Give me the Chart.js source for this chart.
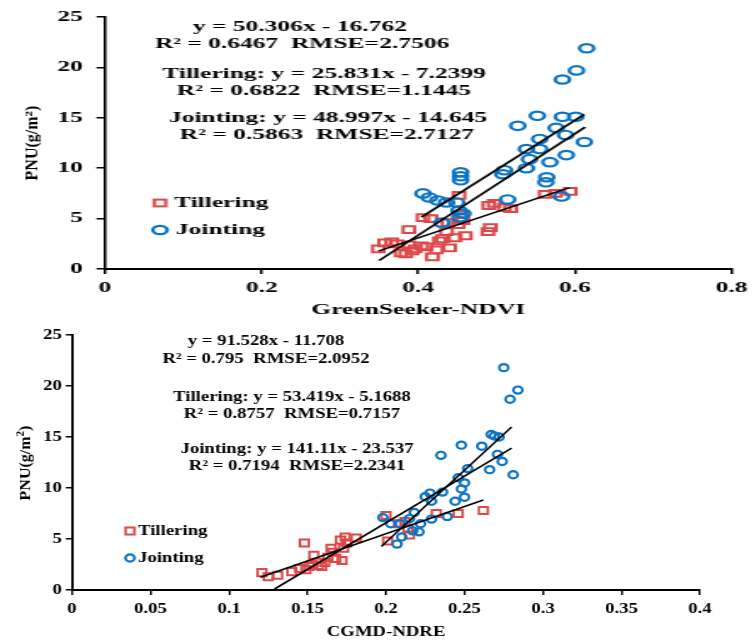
<!DOCTYPE html>
<html>
<head>
<meta charset="utf-8">
<script src="https://cdn.jsdelivr.net/npm/chart.js@4/dist/chart.umd.min.js"></script>
<style>
  html, body { margin: 0; padding: 0; background: #fff; width: 756px; height: 641px; overflow: hidden; }
  .wrap { position: absolute; left: 0; transform-origin: 0 0; }
  canvas { display: block; }
</style>
</head>
<body>
<div id="w1" class="wrap"><canvas id="c1"></canvas></div>
<div id="w2" class="wrap"><canvas id="c2"></canvas></div>
<script>
// ---------------- DATA ----------------
// Panel 1: GreenSeeker-NDVI
const topTilleringX = [0.349,0.357,0.366,0.373,0.378,0.384,0.388,0.392,0.396,0.388,0.404,0.406,0.416,0.418,0.423,0.427,0.431,0.436,0.438,0.447,0.451,0.452,0.455,0.457,0.460,0.489,0.492,0.490,0.497,0.510,0.518,0.562,0.575,0.594,0.410,0.440];
const topTilleringY = [2.0,2.6,2.7,2.5,1.6,1.5,2.4,1.8,2.0,3.9,2.3,5.1,5.0,1.2,1.9,2.8,3.0,3.7,4.6,3.1,4.4,7.3,5.4,4.8,3.3,3.7,4.1,6.3,6.5,6.1,6.0,7.4,7.5,7.7,2.2,2.1];
const topJointingX = [0.406,0.414,0.425,0.436,0.449,0.452,0.457,0.453,0.430,0.454,0.454,0.454,0.510,0.508,0.514,0.527,0.538,0.538,0.542,0.552,0.555,0.555,0.564,0.563,0.568,0.576,0.583,0.584,0.584,0.588,0.589,0.601,0.602,0.612,0.615];
const topJointingY = [7.5,7.1,6.8,6.6,6.6,5.8,5.5,5.1,4.6,9.6,9.2,8.8,9.8,9.4,6.9,14.2,11.9,10.0,10.9,15.2,12.9,11.9,9.1,8.6,10.6,14.0,7.2,15.1,18.8,13.3,11.3,15.1,19.7,12.6,21.9];
// fitted lines: [all, tillering, jointing]
const topFitSlope = [50.306, 25.831, 48.997];
const topFitIntercept = [-16.762, -7.2399, -14.645];
const topFitFrom = [0.350, 0.349, 0.404];
const topFitTo = [0.613, 0.593, 0.612];
const topXTicks = [0, 0.2, 0.4, 0.6, 0.8];
const topXTickLabels = ['0', '0.2', '0.4', '0.6', '0.8'];
const topEquationLines = [
  'y = 50.306x - 16.762',
  'R² = 0.6467  RMSE=2.7506',
  'Tillering: y = 25.831x - 7.2399',
  'R² = 0.6822  RMSE=1.1445',
  'Jointing: y = 48.997x - 14.645',
  'R² = 0.5863  RMSE=2.7127'
];

// Panel 2: CGMD-NDRE
const botTilleringX = [0.121,0.125,0.131,0.140,0.145,0.148,0.149,0.151,0.153,0.154,0.157,0.159,0.161,0.163,0.165,0.166,0.168,0.171,0.172,0.173,0.174,0.175,0.181,0.200,0.201,0.208,0.212,0.214,0.215,0.232,0.246,0.262];
const botTilleringY = [1.7,1.3,1.45,1.8,2.1,4.6,2.0,2.3,2.5,3.4,2.4,2.3,2.7,3.2,4.1,3.7,3.1,4.9,2.9,4.1,5.2,4.6,5.1,7.3,4.8,6.5,6.7,6.0,5.4,7.5,7.5,7.8];
const botJointingX = [0.198,0.203,0.207,0.209,0.210,0.215,0.217,0.218,0.221,0.222,0.225,0.228,0.229,0.229,0.235,0.236,0.239,0.244,0.246,0.248,0.248,0.250,0.250,0.252,0.261,0.266,0.267,0.269,0.272,0.271,0.274,0.275,0.279,0.281,0.284];
const botJointingY = [7.1,6.5,4.5,6.5,5.2,7.0,5.8,7.6,5.7,6.5,9.15,9.5,8.7,6.95,13.2,9.6,7.2,8.7,11.0,14.2,9.9,10.5,9.1,11.9,14.1,11.8,15.25,15.1,15.0,13.3,12.6,21.8,18.7,11.3,19.6];
const botFitSlope = [91.528, 53.419, 141.11];
const botFitIntercept = [-11.708, -5.1688, -23.537];
const botFitFrom = [0.129, 0.120, 0.197];
const botFitTo = [0.280, 0.262, 0.280];
const botXTicks = [0, 0.05, 0.1, 0.15, 0.2, 0.25, 0.3, 0.35, 0.4];
const botXTickLabels = ['0', '0.05', '0.1', '0.15', '0.2', '0.25', '0.3', '0.35', '0.4'];
const botEquationLines = [
  'y = 91.528x - 11.708',
  'R² = 0.795  RMSE=2.0952',
  'Tillering: y = 53.419x - 5.1688',
  'R² = 0.8757  RMSE=0.7157',
  'Jointing: y = 141.11x - 23.537',
  'R² = 0.7194  RMSE=2.2341'
];

const yTicks = [0, 5, 10, 15, 20, 25];
const yTickLabels = ['0', '5', '10', '15', '20', '25'];
const seriesNames = ['Tillering', 'Jointing'];
const yTitleParts = ['PNU(g/m', '2', ')'];   // "PNU(g/m²)" with superscript 2

// ---------------- RENDERING ----------------
const FF = "'Liberation Serif','Times New Roman',serif";
const RED = '#dd4848';
const BLUE = '#0b74c4';

function pts(xs, ys) { return xs.map((x, i) => ({ x: x, y: ys[i] })); }
function fitLines(m, b, from, to) {
  return m.map((s, i) => ({
    type: 'line',
    data: [{ x: from[i], y: s * from[i] + b[i] }, { x: to[i], y: s * to[i] + b[i] }],
    borderColor: '#000', borderWidth: 1.6, pointRadius: 0, fill: false, order: 0
  }));
}

const decor = {
  id: 'decor',
  afterDraw(chart, args, o) {
    const ctx = chart.ctx, k = o.k;
    ctx.save();
    ctx.fillStyle = '#000';
    ctx.textAlign = 'center';
    ctx.textBaseline = 'middle';
    ctx.font = 'bold 15px ' + FF;
    o.lines.forEach((t, i) => ctx.fillText(t, o.linePos[i][0] / k, o.linePos[i][1]));
    // legend
    o.legend.forEach((it) => {
      const ds = chart.data.datasets[it.ds];
      const mx = it.marker[0] / k, my = it.marker[1];
      ctx.strokeStyle = ds.borderColor;
      ctx.lineWidth = ds.borderWidth;
      const r = ds.pointRadius;
      if (ds.pointStyle === 'rect') {
        const side = 2 * Math.SQRT1_2 * r;
        ctx.strokeRect(mx - side / 2, my - side / 2, side, side);
      } else {
        ctx.beginPath(); ctx.arc(mx, my, r, 0, Math.PI * 2); ctx.stroke();
      }
      ctx.textAlign = 'left';
      ctx.font = 'bold 15px ' + FF;
      ctx.fillText(ds.label, it.text[0] / k, it.text[1]);
    });
    // y axis title (drawn without horizontal stretch), with superscript 2
    ctx.translate(o.yTitle[0] / k, o.yTitle[1]);
    ctx.scale(1 / k, 1);
    ctx.rotate(-Math.PI / 2);
    ctx.textBaseline = 'alphabetic';
    const fMain = 'bold 16px ' + FF, fSup = 'bold 11px ' + FF;
    ctx.font = fMain; const w0 = ctx.measureText(yTitleParts[0]).width;
    const w2 = ctx.measureText(yTitleParts[2]).width;
    ctx.font = fSup; const w1 = ctx.measureText(yTitleParts[1]).width;
    let x = -(w0 + w1 + w2) / 2;
    const base = 5;
    ctx.textAlign = 'left';
    ctx.font = fMain; ctx.fillText(yTitleParts[0], x, base); x += w0;
    ctx.font = fSup; ctx.fillText(yTitleParts[1], x, base - 6); x += w1;
    ctx.font = fMain; ctx.fillText(yTitleParts[2], x, base);
    ctx.restore();
  }
};

function build(canvasId, wrapId, p) {
  const el = document.getElementById(canvasId);
  const wrap = document.getElementById(wrapId);
  const Wi = Math.round(756 / p.stretch);
  const k = 756 / Wi;
  el.width = Wi; el.height = p.height;
  el.style.width = Wi + 'px'; el.style.height = p.height + 'px';
  wrap.style.top = p.offsetTop + 'px';
  wrap.style.transform = 'scaleX(' + k + ')';
  const tickFont = { family: FF, size: 15, weight: 'bold' };
  return new Chart(el, {
    type: 'scatter',
    data: {
      datasets: [
        { label: seriesNames[0], data: p.tiller, pointStyle: 'rect', pointRadius: p.rectR, borderWidth: 2,
          borderColor: RED, backgroundColor: 'rgba(0,0,0,0)', pointHoverRadius: p.rectR, order: 2 },
        { label: seriesNames[1], data: p.joint, pointStyle: 'circle', pointRadius: p.circR, borderWidth: 2.2,
          borderColor: BLUE, backgroundColor: 'rgba(0,0,0,0)', pointHoverRadius: p.circR, order: 1 }
      ].concat(p.fits)
    },
    options: {
      responsive: false,
      animation: false,
      events: [],
      layout: { padding: { left: 0, top: p.area.top, right: Wi - p.area.right / k, bottom: 0 } },
      plugins: {
        legend: { display: false },
        tooltip: { enabled: false },
        decor: { k: k, lines: p.lines, linePos: p.linePos, legend: p.legend, yTitle: p.yTitle }
      },
      scales: {
        x: {
          type: 'linear', min: p.xTicks[0], max: p.xTicks[p.xTicks.length - 1],
          afterBuildTicks: (s) => { s.ticks = p.xTicks.map(v => ({ value: v })); },
          afterFit: (s) => { s.height = p.height - p.area.bottom; },
          ticks: { font: tickFont, color: '#000', padding: 5, maxRotation: 0,
                   callback: (v, i) => p.xTickLabels[i] },
          grid: { display: true, drawOnChartArea: false, drawTicks: true, tickLength: 5, color: '#000', lineWidth: 1.5 },
          border: { display: true, color: '#000', width: 2 },
          title: { display: true, text: p.xTitle, color: '#000', font: { family: FF, size: 15, weight: 'bold' },
                   padding: { top: 0, bottom: p.xTitlePad } }
        },
        y: {
          type: 'linear', min: 0, max: 25,
          afterBuildTicks: (s) => { s.ticks = yTicks.map(v => ({ value: v })); },
          afterFit: (s) => { s.width = p.area.left / k; },
          ticks: { font: tickFont, color: '#000', padding: p.yPad, callback: (v, i) => yTickLabels[i] },
          grid: { display: true, drawOnChartArea: false, drawTicks: true, tickLength: 5, color: '#000', lineWidth: 1.5 },
          border: { display: true, color: '#000', width: p.yBorder }
        }
      }
    },
    plugins: [decor]
  });
}

build('c1', 'w1', {
  stretch: 1.7, height: 322, offsetTop: 0,
  area: { left: 105, right: 736, top: 16, bottom: 269 },
  tiller: pts(topTilleringX, topTilleringY),
  joint: pts(topJointingX, topJointingY),
  fits: fitLines(topFitSlope, topFitIntercept, topFitFrom, topFitTo),
  xTicks: topXTicks, xTickLabels: topXTickLabels,
  xTitle: 'GreenSeeker-NDVI', xTitlePad: 3,
  rectR: 4.8, circR: 4.2, yPad: 8, yBorder: 1.6,
  lines: topEquationLines,
  linePos: [[300, 27], [302, 44], [324, 74], [324, 91], [328, 118], [327, 135]],
  legend: [{ ds: 0, marker: [160, 203], text: [174, 203] }, { ds: 1, marker: [160, 230], text: [176, 230] }],
  yTitle: [33, 143]
});

build('c2', 'w2', {
  stretch: 1.25, height: 319, offsetTop: 322,
  area: { left: 72, right: 700, top: 13, bottom: 268 },
  tiller: pts(botTilleringX, botTilleringY),
  joint: pts(botJointingX, botJointingY),
  fits: fitLines(botFitSlope, botFitIntercept, botFitFrom, botFitTo),
  xTicks: botXTicks, xTickLabels: botXTickLabels,
  xTitle: 'CGMD-NDRE', xTitlePad: 0,
  rectR: 5.0, circR: 3.6, yPad: 3, yBorder: 2,
  lines: botEquationLines,
  linePos: [[266, 19], [266, 37], [292, 75], [292, 92], [297, 127], [297, 144]],
  legend: [{ ds: 0, marker: [130, 209], text: [138, 209] }, { ds: 1, marker: [130, 236], text: [138, 236] }],
  yTitle: [25, 141]
});
</script>
</body>
</html>
